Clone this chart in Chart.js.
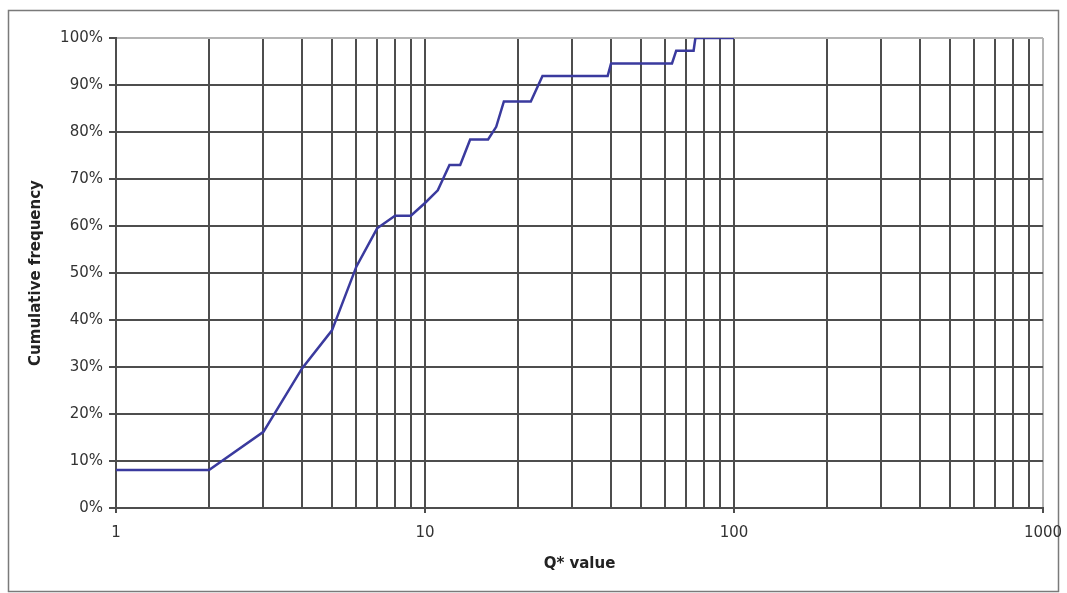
<!DOCTYPE html>
<html>
<head>
<meta charset="utf-8">
<script src="https://cdn.jsdelivr.net/npm/chart.js@4/dist/chart.umd.min.js"></script>
<style>
  html, body { margin: 0; padding: 0; background: #ffffff; }
  #wrap { width: 1067px; height: 593px; position: relative; }
</style>
</head>
<body>
<div id="wrap"><canvas id="chart"></canvas></div>
<script>
// Q* values and the cumulative share of cases at or below each value
const qValues = [1, 2, 3, 4, 5, 6, 7, 8, 9, 10, 11, 12, 13, 14, 16, 17, 18, 22, 24, 39, 40, 63, 65, 74, 75, 100];
const cumulativePct = [8.1, 8.1, 16.2, 29.7, 37.8, 51.4, 59.5, 62.2, 62.2, 64.9, 67.6, 73.0, 73.0, 78.4, 78.4, 81.1, 86.5, 86.5, 91.9, 91.9, 94.6, 94.6, 97.3, 97.3, 100, 100];

// Log-axis grid: every 1..9 step in each decade; labels only on the decades
const xTickValues = [1, 2, 3, 4, 5, 6, 7, 8, 9,
                     10, 20, 30, 40, 50, 60, 70, 80, 90,
                     100, 200, 300, 400, 500, 600, 700, 800, 900, 1000];
const xTickLabels = { 1: '1', 10: '10', 100: '100', 1000: '1000' };
const yTickValues = [0, 10, 20, 30, 40, 50, 60, 70, 80, 90, 100];

const points = qValues.map((q, i) => ({ x: q, y: cumulativePct[i] }));

const GRID = '#4d4d4d';
const EDGE = '#b4b4b4';
const FONT = 'DejaVu Sans, Verdana, sans-serif';

// Thin outer frame around the whole figure
const framePlugin = {
  id: 'frame',
  beforeDraw(chart) {
    const ctx = chart.ctx;
    ctx.save();
    ctx.fillStyle = '#ffffff';
    ctx.fillRect(0, 0, chart.width, chart.height);
    ctx.strokeStyle = '#7a7a7a';
    ctx.lineWidth = 1.5;
    ctx.strokeRect(8.5, 10.5, chart.width - 17, chart.height - 12);
    ctx.restore();
  }
};

new Chart(document.getElementById('chart'), {
  type: 'scatter',
  data: {
    datasets: [{
      data: points,
      showLine: true,
      borderColor: '#3a3a9e',
      backgroundColor: '#3a3a9e',
      borderWidth: 2.5,
      pointRadius: 0,
      tension: 0
    }]
  },
  options: {
    responsive: true,
    maintainAspectRatio: false,
    animation: false,
    layout: { padding: { top: 38, right: 24, bottom: 0, left: 0 } },
    plugins: {
      legend: { display: false },
      tooltip: { enabled: false }
    },
    scales: {
      x: {
        type: 'logarithmic',
        min: 1,
        max: 1000,
        afterBuildTicks(scale) {
          scale.ticks = xTickValues.map(v => ({ value: v }));
        },
        afterFit(scale) {
          scale.height = 85;
          scale.paddingLeft = 0;
          scale.paddingRight = 0;
        },
        ticks: {
          autoSkip: false,
          maxRotation: 0,
          padding: 11,
          color: '#333333',
          font: { family: FONT, size: 15 },
          callback: v => xTickLabels[v] || ''
        },
        grid: {
          lineWidth: 2,
          tickLength: 5,
          color: ctx => (ctx.tick && ctx.tick.value === 1000) ? EDGE : GRID,
          tickColor: ctx => (ctx.tick && xTickLabels[ctx.tick.value]) ? GRID : 'rgba(0,0,0,0)'
        },
        border: { display: true, color: GRID, width: 2 },
        title: {
          display: true,
          text: 'Q* value',
          color: '#222222',
          font: { family: FONT, size: 15, weight: 'bold' },
          padding: { top: 0, bottom: 20 }
        }
      },
      y: {
        type: 'linear',
        min: 0,
        max: 100,
        afterBuildTicks(scale) {
          scale.ticks = yTickValues.map(v => ({ value: v }));
        },
        afterFit(scale) {
          scale.width = 116;
          scale.paddingTop = 0;
          scale.paddingBottom = 0;
        },
        ticks: {
          padding: 6,
          color: '#333333',
          font: { family: FONT, size: 15 },
          callback: v => v + '%'
        },
        grid: {
          lineWidth: 2,
          tickLength: 7,
          color: ctx => (ctx.tick && ctx.tick.value === 100) ? EDGE : GRID,
          tickColor: GRID
        },
        border: { display: true, color: GRID, width: 2 },
        title: {
          display: true,
          text: 'Cumulative frequency',
          color: '#222222',
          font: { family: FONT, size: 15, weight: 'bold' },
          padding: { top: 27, bottom: 0 }
        }
      }
    }
  },
  plugins: [framePlugin]
});
</script>
</body>
</html>
